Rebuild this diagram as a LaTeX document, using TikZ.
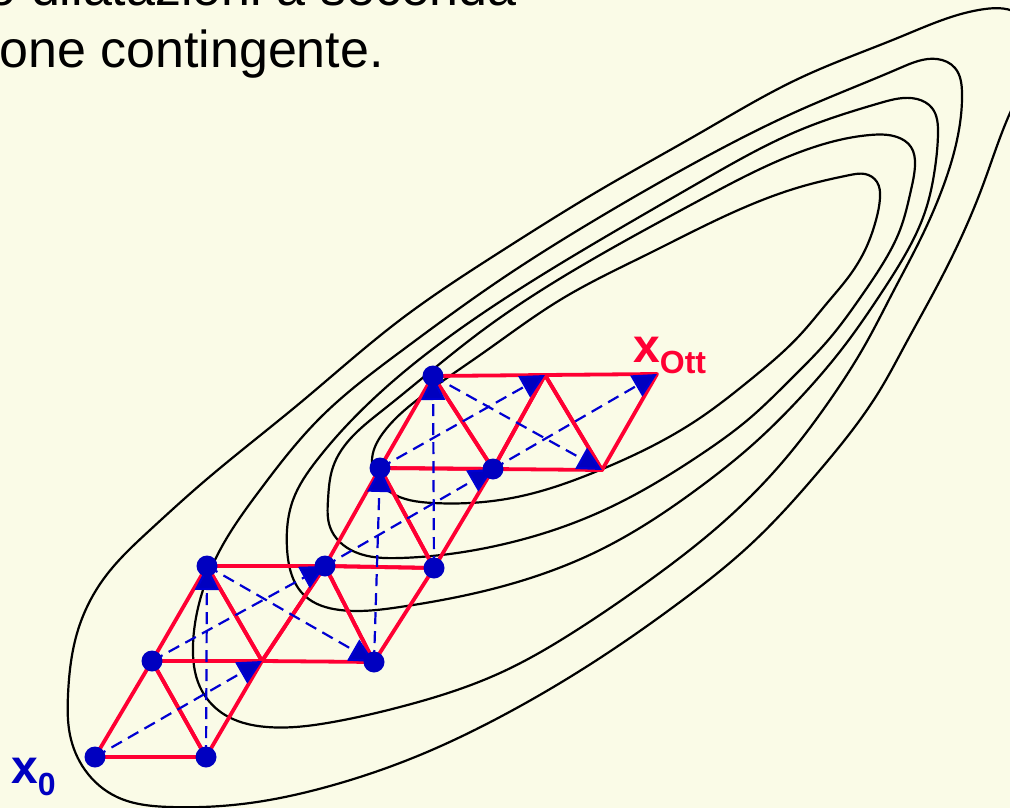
\documentclass[tikz,border=0pt]{standalone}
\usepackage{fontspec}
\setmainfont{Liberation Sans}
\usetikzlibrary{arrows.meta,hobby}
\definecolor{bgcol}{RGB}{250,251,231}
\definecolor{simred}{RGB}{255,0,51}
\definecolor{dotblue}{RGB}{0,0,192}
\definecolor{lineblue}{RGB}{0,0,210}
\begin{document}
\begin{tikzpicture}[x=1pt,y=-1pt,
  contour/.style={draw=black,line width=2.2pt},
  edge/.style={draw=simred,line width=3.8pt,line join=round},
  refl/.style={draw=lineblue,line width=2.2pt,dash pattern=on 12pt off 7pt,-{Triangle[length=24pt,width=24pt,fill=dotblue]}},
  vert/.style={circle,fill=dotblue,minimum size=21pt,inner sep=0pt},
  title/.style={anchor=base east,inner sep=0pt,font=\fontsize{52}{62}\selectfont}]
\fill[bgcol] (0,0) rectangle (1010,808);
\useasboundingbox (0,0) rectangle (1010,808);

% text
\node[title] (t1) at (517,6) {o dilatazioni a seconda};
\node[title] (t2) at (384,68) {one contingente.};

% contours
\draw[contour] plot[closed hobby] coordinates {(68,695) (78,630) (105,577) (150,530) (200,485) (300,403) (400,320) (500,252) (600,190) (700,133) (800,78) (900,37) (985,9) (1020,15) (1033,45) (1025,80) (1010,113) (983,185) (960,240) (935,290) (905,345) (880,390) (820,470) (750,545) (680,602) (600,658) (500,717) (420,755) (330,786) (250,803) (170,807) (117,797) (85,770) (70,735)};
\draw[contour] plot[closed hobby] coordinates {(193,645) (200,600) (220,550) (260,490) (320,418) (400,352) (500,280) (600,217) (700,160) (800,110) (900,68) (937,59) (955,68) (962,93) (957,140) (943,187) (920,240) (893,292) (865,345) (830,400) (780,465) (720,525) (650,580) (580,628) (500,673) (400,707) (333,722) (267,727) (222,713) (200,687)};
\draw[contour] plot[closed hobby] coordinates {(287,548) (293,500) (317,460) (383,390) (483,313) (600,240) (700,182) (800,130) (880,103) (917,99) (932,108) (938,133) (935,168) (925,212) (905,255) (880,295) (845,345) (800,398) (750,447) (700,487) (600,550) (500,587) (400,607) (340,610) (305,596)};
\draw[contour] plot[closed hobby] coordinates {(330,527) (328,500) (333,467) (383,410) (483,330) (600,255) (700,200) (800,152) (870,135) (897,137) (911,147) (915,165) (911,190) (900,230) (882,265) (860,298) (830,338) (790,380) (750,418) (700,455) (600,512) (500,545) (400,558) (355,552)};
\draw[contour] plot[closed hobby] coordinates {(372,462) (383,433) (417,400) (483,353) (560,300) (650,253) (700,228) (800,187) (850,175) (865,174) (877,182) (880,198) (876,220) (866,248) (850,275) (828,302) (800,335) (750,380) (700,418) (600,470) (517,497) (433,503) (390,492)};

% simplex vertices
\coordinate (p1) at (95,757);
\coordinate (p2) at (206,757);
\coordinate (p3) at (152,661);
\coordinate (p4) at (207,566);
\coordinate (p5) at (262,661);
\coordinate (p6) at (325,566);
\coordinate (p7) at (374,662);
\coordinate (p8) at (434,568);
\coordinate (p9) at (380,468);
\coordinate (p10) at (493,469);
\coordinate (p11) at (433,376);
\coordinate (p12) at (545,375);
\coordinate (p13) at (602,470);
\coordinate (p14) at (657,374);

% red simplices
\draw[edge] (p1) -- (p2) -- (p3) -- cycle;
\draw[edge] (p3) -- (p2) -- (p5) -- cycle;
\draw[edge] (p3) -- (p4) -- (p5) -- cycle;
\draw[edge] (p4) -- (p5) -- (p6) -- cycle;
\draw[edge] (p5) -- (p6) -- (p7) -- cycle;
\draw[edge] (p6) -- (p7) -- (p8) -- cycle;
\draw[edge] (p6) -- (p8) -- (p9) -- cycle;
\draw[edge] (p8) -- (p9) -- (p10) -- cycle;
\draw[edge] (p9) -- (p10) -- (p11) -- cycle;
\draw[edge] (p10) -- (p11) -- (p12) -- cycle;
\draw[edge] (p10) -- (p12) -- (p13) -- cycle;
\draw[edge] (p12) -- (p13) -- (p14) -- cycle;

% reflections
\draw[refl] (p1) -- (p5);
\draw[refl] (p2) -- (p4);
\draw[refl] (p3) -- (p6);
\draw[refl] (p4) -- (p7);
\draw[refl] (p7) -- (p9);
\draw[refl] (p6) -- (p10);
\draw[refl] (p8) -- (p11);
\draw[refl] (p9) -- (p12);
\draw[refl] (p11) -- (p13);
\draw[refl] (p10) -- (p14);

% dots
\foreach \i in {1,2,3,4,6,7,8,9,10,11}
  \node[vert] (d\i) at (p\i) {};

% labels
\node[anchor=base west,inner sep=0pt,text=dotblue,font=\fontsize{48}{48}\selectfont\bfseries] (lx0) at (11,783) {x\raisebox{-12pt}{\fontsize{32}{32}\selectfont 0}};
\node[anchor=base west,inner sep=0pt,text=simred,font=\fontsize{48}{48}\selectfont\bfseries] (lxott) at (633,362) {x\raisebox{-11pt}{\fontsize{32}{32}\selectfont Ott}};
\end{tikzpicture}
\end{document}
